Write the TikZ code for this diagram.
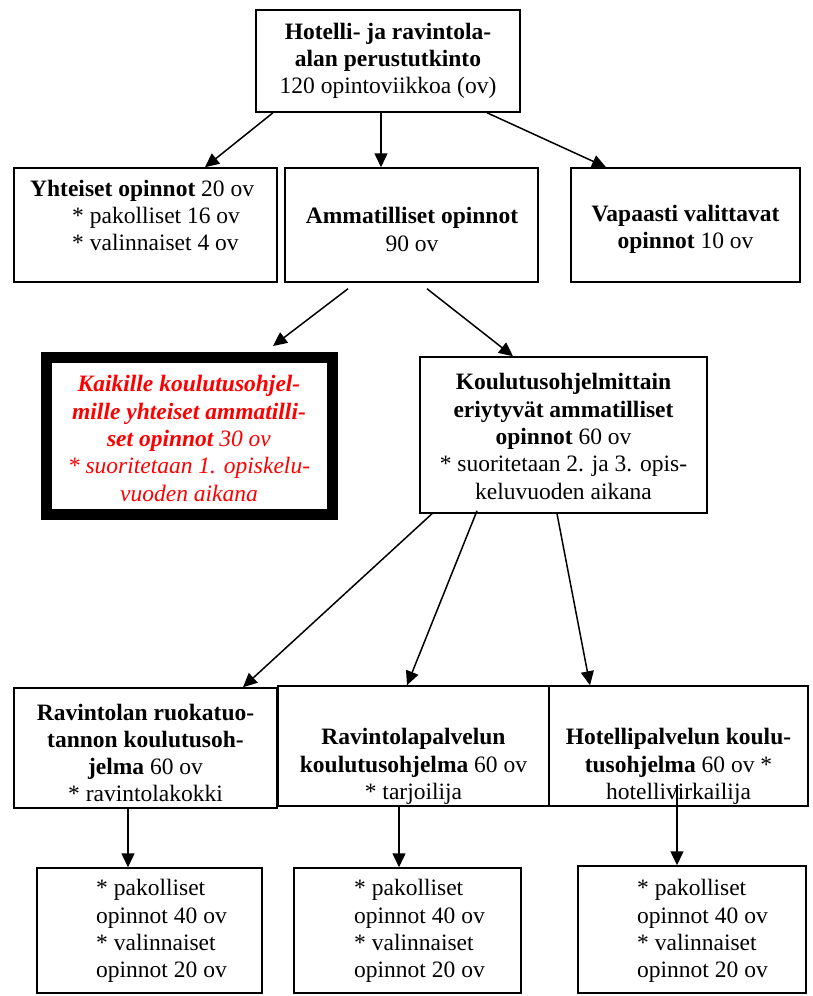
\documentclass[tikz,border=0pt]{standalone}
\usepackage{fontspec}
\setmainfont{Liberation Serif}
\usetikzlibrary{arrows.meta}
\definecolor{redtxt}{RGB}{255,0,0}
\begin{document}
\begin{tikzpicture}[x=1pt,y=-1pt,
  box/.style={draw,line width=1.5pt,inner sep=0pt},
  thickbox/.style={draw,line width=11pt,inner sep=0pt},
  txt/.style={inner sep=0pt,align=center,font=\fontsize{23.5}{27.3}\selectfont},
  ltxt/.style={inner sep=0pt,align=left,anchor=west,font=\fontsize{23.5}{27.3}\selectfont},
  arr/.style={line width=1.5pt,-{Triangle[length=14pt,width=13pt]}}]
\useasboundingbox (0,0) rectangle (812,996);
% boxes
\node[box,minimum width=264pt,minimum height=102pt] (top) at (388,61) {};
\node[box,minimum width=263pt,minimum height=114pt] (yht) at (145.5,225) {};
\node[box,minimum width=253pt,minimum height=114pt] (amm) at (411.5,225) {};
\node[box,minimum width=229pt,minimum height=114pt] (vap) at (685.5,225) {};
\node[thickbox,minimum width=286pt,minimum height=157pt] (kaik) at (189,435.5) {};
\node[box,minimum width=287pt,minimum height=156pt] (kou) at (563.5,435) {};
\node[box,minimum width=263pt,minimum height=120pt] (rav) at (145.5,748) {};
\node[box,minimum width=271pt,minimum height=120pt] (rpal) at (413.5,746) {};
\node[box,minimum width=259pt,minimum height=120pt] (hpal) at (678.5,746) {};
\node[box,minimum width=225pt,minimum height=125pt] (b1) at (149.5,930.5) {};
\node[box,minimum width=227pt,minimum height=125pt] (b2) at (407.5,930.5) {};
\node[box,minimum width=228pt,minimum height=127pt] (b3) at (692,929.5) {};
% texts
\node[txt] (ttop) at (388,61) {\textbf{Hotelli- ja ravintola-}\\\textbf{alan perustutkinto}\\120 opintoviikkoa (ov)};
\node[ltxt] (tyht) at (30,215.5) {\textbf{Yhteiset opinnot} 20 ov\\\hspace*{42pt}* pakolliset 16 ov\\\hspace*{42pt}* valinnaiset 4 ov};
\node[txt] (tamm) at (412,229.5) {\textbf{Ammatilliset opinnot}\\90 ov};
\node[txt] (tvap) at (685.5,229.5) {\textbf{Vapaasti valittavat}\\\textbf{opinnot} 10 ov};
\node[txt,text=redtxt,font=\fontsize{23.5}{27.3}\selectfont\itshape] (tkaik) at (189,438.5) {\textbf{Kaikille koulutusohjel-}\\\textbf{mille yhteiset ammatilli-}\\\textbf{set opinnot} 30 ov\\* suoritetaan 1. opiskelu-\\vuoden aikana};
\node[txt] (tkou) at (563.5,436.5) {\textbf{Koulutusohjelmittain}\\\textbf{eriytyvät ammatilliset}\\\textbf{opinnot} 60 ov\\* suoritetaan 2. ja 3. opis-\\keluvuoden aikana};
\node[txt] (trav) at (145.5,753) {\textbf{Ravintolan ruokatuo-}\\\textbf{tannon koulutusoh-}\\\textbf{jelma} 60 ov\\* ravintolakokki};
\node[txt] (trpal) at (413.5,766.5) {\textbf{Ravintolapalvelun}\\\textbf{koulutusohjelma} 60 ov\\* tarjoilija};
\node[txt] (thpal) at (678.5,766.5) {\textbf{Hotellipalvelun koulu-}\\\textbf{tusohjelma} 60 ov *\\hotellivirkailija};
\node[ltxt] (tb1) at (96,931) {* pakolliset\\opinnot 40 ov\\* valinnaiset\\opinnot 20 ov};
\node[ltxt] (tb2) at (354,931) {* pakolliset\\opinnot 40 ov\\* valinnaiset\\opinnot 20 ov};
\node[ltxt] (tb3) at (637,931) {* pakolliset\\opinnot 40 ov\\* valinnaiset\\opinnot 20 ov};
% connectors
\draw[arr] ([xshift=-115pt]top.south) -- ([xshift=59.5pt]yht.north);
\draw[arr] ([xshift=-7pt]top.south) -- ([xshift=-30.5pt]amm.north);
\draw[arr] ([xshift=99pt]top.south) -- ([xshift=-79.5pt]vap.north);
\draw[arr] ([xshift=-63.5pt,yshift=-6pt]amm.south) -- ([xshift=84pt,yshift=5.5pt]kaik.north);
\draw[arr] ([xshift=15.5pt,yshift=-6pt]amm.south) -- ([xshift=-50.5pt]kou.north);
\draw[arr] ([xshift=-131.5pt]kou.south) -- ([xshift=97.5pt]rav.north);
\draw[arr] ([xshift=-86.5pt,yshift=3pt]kou.south) -- ([xshift=-6.5pt]rpal.north);
\draw[arr] ([xshift=-6.5pt]kou.south) -- ([xshift=-88.5pt]hpal.north);
\draw[arr] ([xshift=-17.5pt]rav.south) -- ([xshift=-21.5pt]b1.north);
\draw[arr] ([xshift=-14.5pt]rpal.south) -- ([xshift=-8.5pt]b2.north);
\draw[arr] ([xshift=-1.5pt,yshift=22pt]hpal.south) -- ([xshift=-15pt]b3.north);
\end{tikzpicture}
\end{document}
